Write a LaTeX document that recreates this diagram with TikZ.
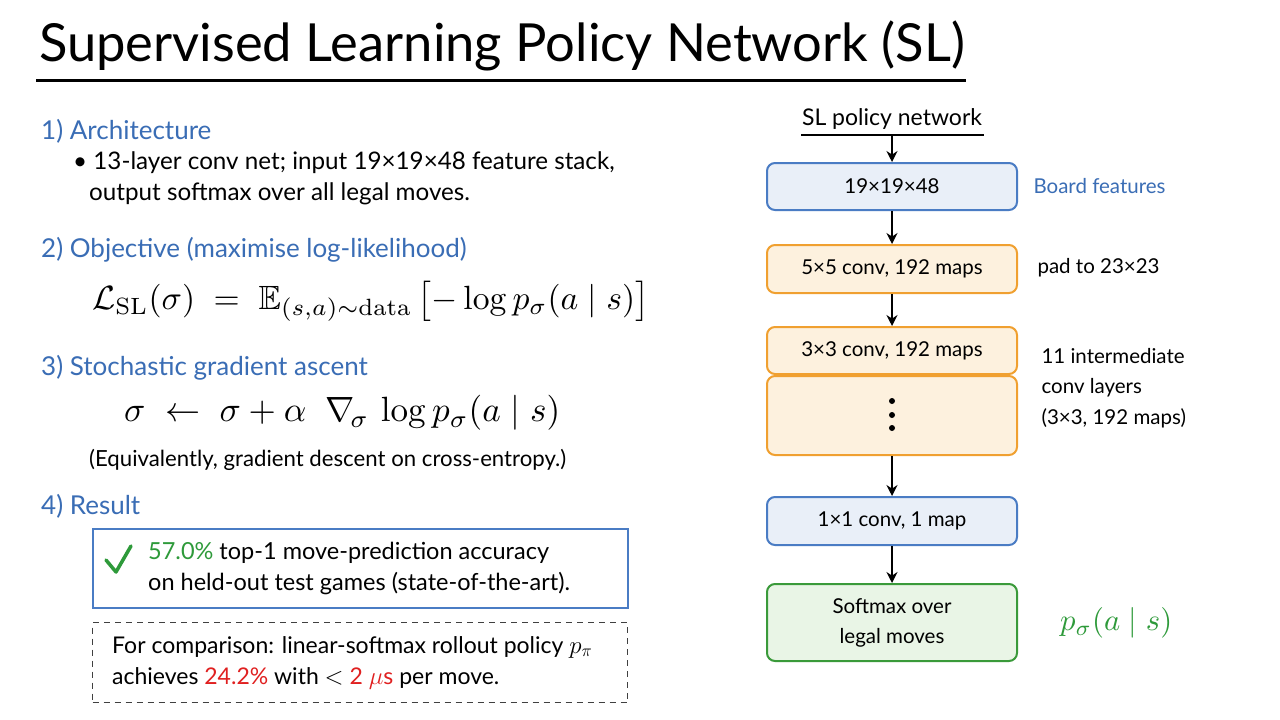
\documentclass[tikz,border=0pt]{standalone}
\usepackage{amsmath,amssymb}
\usepackage{graphicx}
\usepackage[no-math]{fontspec}
\setmainfont{Lato}
\usetikzlibrary{arrows.meta}
\definecolor{hblue}{HTML}{3A6DB5}
\definecolor{bblue}{HTML}{4A7CC4}
\definecolor{fblue}{HTML}{E9EFF8}
\definecolor{borange}{HTML}{F0A030}
\definecolor{forange}{HTML}{FDF1DE}
\definecolor{bgreen}{HTML}{3A9A3A}
\definecolor{fgreen}{HTML}{E9F5E6}
\definecolor{tgreen}{HTML}{2E9A3A}
\definecolor{tred}{HTML}{E02020}
\tikzset{
  head/.style={anchor=west, inner sep=1pt, text=hblue, font=\fontsize{26}{30}\selectfont},
  body/.style={anchor=west, inner sep=1pt, font=\fontsize{23.5}{31}\selectfont},
  layer/.style={draw, line width=2pt, rounded corners=8pt, minimum width=250pt, font=\fontsize{20.5}{30}\selectfont, align=center},
  blayer/.style={layer, draw=bblue, fill=fblue},
  olayer/.style={layer, draw=borange, fill=forange},
  glayer/.style={layer, draw=bgreen, fill=fgreen},
  flow/.style={-{Stealth[length=11pt,width=11pt]}, line width=1.6pt},
  side/.style={anchor=west, font=\fontsize{20.5}{30.5}\selectfont, align=left},
}
\begin{document}
\begin{tikzpicture}[x=1pt,y=-1pt]
\useasboundingbox (0,0) rectangle (1280,720);
\fill[white] (0,0) rectangle (1280,720);

% Title
\node[anchor=west, inner sep=0pt, font=\fontsize{52.5}{60}\selectfont] (title) at (39,46) {Supervised Learning Policy Network (SL)};
\coordinate (ul1) at (36,80);
\coordinate (ul2) at (966,80);
\draw[line width=3pt] (ul1) -- (ul2);

% Left column
\node[head] (h1) at (40,131) {1) Architecture};
\node[body, align=left, font=\fontsize{24.2}{31}\selectfont] (b1) at (72,178) {\textbullet\ 13-layer conv net; input 19×19×48 feature stack,\\ \hspace*{16pt}output softmax over all legal moves.};

\node[head] (h2) at (40,250) {2) Objective (maximise log-likelihood)};
\node[anchor=west, inner sep=0pt] (eq1) at (92,301) {\resizebox{557pt}{!}{$\mathcal{L}_{\mathrm{SL}}(\sigma)\;=\;\mathbb{E}_{(s,a)\sim\mathrm{data}}\,\bigl[-\log p_\sigma(a\mid s)\bigr]$}};

\node[head] (h3) at (40,368) {3) Stochastic gradient ascent};
\node[anchor=west, inner sep=0pt] (eq2) at (124,413) {\resizebox{436pt}{!}{$\sigma\;\leftarrow\;\sigma+\alpha\;\;\nabla_{\!\sigma}\,\log p_\sigma(a\mid s)$}};
\node[body, font=\fontsize{22.2}{30}\selectfont] (eqn) at (88,460) {(Equivalently, gradient descent on cross-entropy.)};

\node[head] (h4) at (40,506) {4) Result};
\node[draw=bblue, line width=2pt, minimum width=535pt, minimum height=79pt, anchor=north west] (res) at (92,528) {};
\draw[tgreen, line width=3.5pt, line cap=round, line join=round] ([shift={(14,32)}]res.north west) -- ([shift={(24,44)}]res.north west) -- ([shift={(39,18)}]res.north west);
\node[body, align=left] (rest) at ([xshift=55pt]res.west) {{\color{tgreen}57.0\%} top-1 move-prediction accuracy\\ on held-out test games (state-of-the-art).};

\node[draw=black!75, dashed, dash pattern=on 6pt off 5pt, line width=1.3pt, minimum width=535pt, minimum height=80pt, anchor=north west] (cmp) at (92,622) {};
\node[body, align=left, font=\fontsize{23}{31}\selectfont] (cmpt) at ([xshift=19pt]cmp.west) {For comparison: linear-softmax rollout policy $p_\pi$\\ achieves {\color{tred}24.2\%} with $<$ {\color{tred}2 $\mu$s} per move.};

% Right column
\node[font=\fontsize{23}{28}\selectfont, inner sep=2pt] (slt) at (892,119) {SL policy network};
\coordinate (sll) at (801,135);
\coordinate (slr) at (984,135);
\draw[line width=1.8pt] (sll) -- (slr);
\coordinate (sltop) at (892,135);

\node[blayer, minimum height=47pt] (L1) at (892,186.5) {19×19×48};
\node[olayer, minimum height=48pt] (L2) at (892,269) {5×5 conv, 192 maps};
\node[olayer, minimum height=47pt] (L3) at (892,350.5) {3×3 conv, 192 maps};
\node[olayer, minimum height=79pt] (L4) at (892,415.5) {};
\fill (892,401) circle (3pt) (892,415) circle (3pt) (892,428) circle (3pt);
\node[blayer, minimum height=48pt] (L5) at (892,521) {1×1 conv, 1 map};
\node[glayer, minimum height=77pt] (L6) at (892,622.5) {Softmax over\\legal moves};

\draw[flow] (sltop) -- (L1.north);
\draw[flow] (L1) -- (L2);
\draw[flow] (L2) -- (L3);
\draw[flow] (L4) -- (L5);
\draw[flow] (L5) -- (L6);

\node[side, text=hblue] (s1) at (1030,186) {Board features};
\node[side] (s2) at (1034,268) {pad to 23×23};
\node[side] (s3) at (1038,388) {11 intermediate\\conv layers\\(3×3, 192 maps)};
\node[anchor=west, inner sep=0pt, text=tgreen] (s4) at (1060,623) {\resizebox{112pt}{!}{$p_\sigma(a\mid s)$}};
\end{tikzpicture}
\end{document}
